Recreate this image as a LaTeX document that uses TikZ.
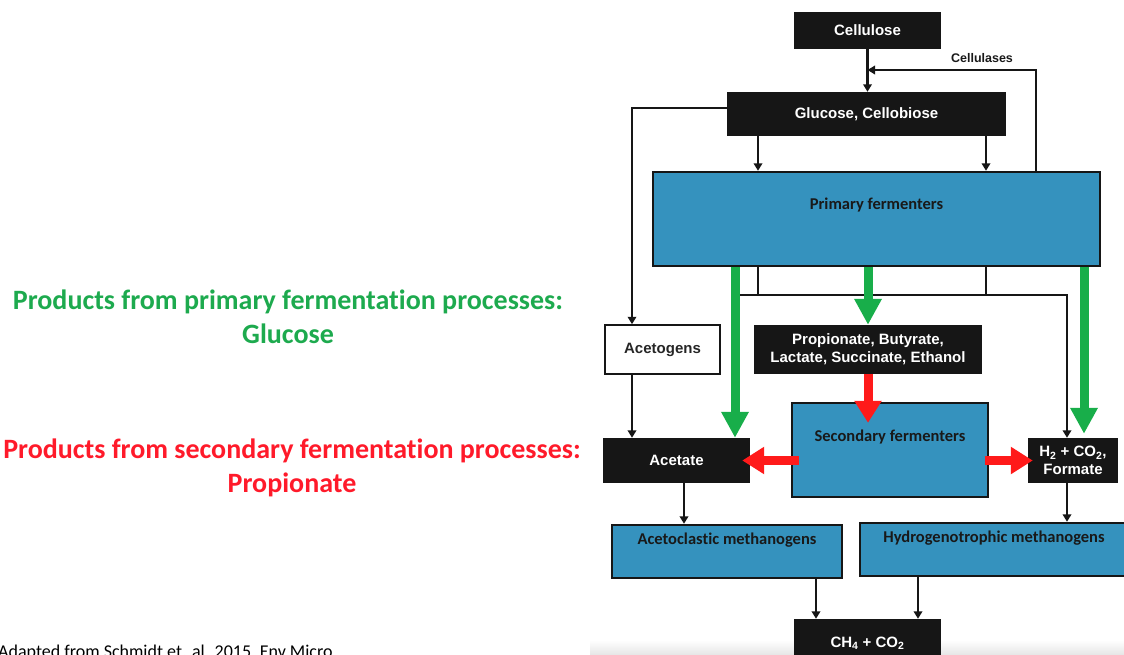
\documentclass[tikz,border=0pt]{standalone}
\usepackage{fontspec}
\setmainfont{Liberation Sans}
\newfontfamily\calfont[Ligatures=NoCommon]{Carlito}
\usetikzlibrary{arrows.meta,calc}

\definecolor{boxblue}{HTML}{3592BE}
\definecolor{boxblack}{HTML}{161616}
\definecolor{flowgreen}{HTML}{18AE4A}
\definecolor{flowred}{HTML}{FF1A1A}
\definecolor{txtgreen}{HTML}{1DAA4E}
\definecolor{txtred}{HTML}{FF1A2A}

\tikzset{
  blackbox/.style={fill=boxblack, text=white, inner sep=0pt, align=center,
    font=\bfseries\fontsize{15}{18}\selectfont},
  whitebox/.style={fill=white, draw=boxblack, line width=1.5pt, inner sep=0pt,
    text=black!85, font=\bfseries\fontsize{15}{18}\selectfont},
  bluebox/.style={fill=boxblue, draw=boxblack, line width=2.4pt, inner sep=0pt},
  bluelabel/.style={text=black!90, font=\calfont\bfseries\fontsize{16.5}{19}\selectfont},
  smalllabel/.style={text=black!90, font=\bfseries\fontsize{12.5}{14}\selectfont},
  heading/.style={align=center, font=\calfont\bfseries\fontsize{28}{34}\selectfont},
  link/.style={draw=boxblack, line width=2.6pt},
  linkarrow/.style={link, -{Triangle[length=7.5pt,width=8.5pt]}},
  primaryflow/.style={draw=flowgreen, line width=9pt, -{Triangle[length=26pt,width=26pt]}},
  secondaryflow/.style={draw=flowred, line width=9pt, -{Triangle[length=22pt,width=26pt]}},
}

\begin{document}
\begin{tikzpicture}[x=1pt, y=-1pt]
\useasboundingbox (0,0) rectangle (1124,655);
\clip (0,0) rectangle (1124,655);

% faint page shadow along the lower right edge
\shade[top color=white, bottom color=black!10] (590,640) rectangle (1124,655);

% ---- boxes ----
\node[blackbox, minimum width=147pt, minimum height=37pt] (cellulose) at (867.5,30.5) {Cellulose};
\node[blackbox, minimum width=279pt, minimum height=44pt] (glucose) at (866.5,114) {Glucose, Cellobiose};
\node[bluebox, minimum width=447pt, minimum height=94pt] (primary) at (876.5,219) {};
\node[bluelabel] (primary-text) at ([yshift=-34pt]primary.north) {Primary fermenters};

\node[whitebox, minimum width=115pt, minimum height=49pt] (acetogens) at (662.5,349.5) {Acetogens};
\node[blackbox, minimum width=228pt, minimum height=49pt] (propionate) at (868,349.5)
  {Propionate, Butyrate,\\Lactate, Succinate, Ethanol};

\node[bluebox, minimum width=196pt, minimum height=94pt] (secondary) at (890,450) {};
\node[bluelabel] (secondary-text) at ([yshift=-35pt]secondary.north) {Secondary fermenters};

\node[blackbox, minimum width=147pt, minimum height=45pt] (acetate) at (676.5,460.5) {Acetate};
\node[blackbox, minimum width=90pt, minimum height=45pt] (h2) at (1073,460.5)
  {H\textsubscript{2} + CO\textsubscript{2},\\Formate};

\node[bluebox, minimum width=230pt, minimum height=53pt] (acetoclastic) at (727,551.5) {};
\node[bluelabel] (acetoclastic-text) at ([yshift=-16pt]acetoclastic.north) {Acetoclastic methanogens};
\node[bluebox, minimum width=270pt, minimum height=53pt] (hydro) at (995,549.5) {};
\node[bluelabel] (hydro-text) at ([xshift=-1pt,yshift=-16pt]hydro.north) {Hydrogenotrophic methanogens};

\node[blackbox, minimum width=147pt, minimum height=48pt] (ch4) at (867.5,643)
  {CH\textsubscript{4} + CO\textsubscript{2}};

% ---- routing points ----
\coordinate (cj) at (867.5,70);
\coordinate (cr) at (1036,70);
\coordinate (g1) at (758,0);
\coordinate (g2) at (986,0);
\coordinate (al) at (632,108);
\coordinate (b1) at (738,295);
\coordinate (b2) at (1067,295);
\coordinate (k1) at (735,0);
\coordinate (k3) at (1084,0);
\coordinate (m1) at (684,0);
\coordinate (n1) at (816,0);
\coordinate (n2) at (918,0);

% ---- thin connectors ----
\draw[linkarrow] (cellulose.south) -- (glucose.north -| cellulose.south);
\draw[linkarrow] (primary.north -| cr) -- (cr) -- (cj);
\node[smalllabel] (cellulases) at (982,58) {Cellulases};
\draw[linkarrow] (glucose.south -| g1) -- (primary.north -| g1);
\draw[linkarrow] (glucose.south -| g2) -- (primary.north -| g2);
\draw[linkarrow, line width=2.2pt] (glucose.west |- al) -- (al) -- (acetogens.north -| al);

\draw[link] (primary.south -| g1) -- (g1 |- b1);
\draw[link] (primary.south -| g2) -- (g2 |- b1);
\draw[linkarrow] (b1) -- (b2) -- (h2.north -| b2);

\draw[linkarrow, line width=2.2pt] (acetogens.south -| al) -- (acetate.north -| al);
\draw[linkarrow] (acetate.south -| m1) -- (acetoclastic.north -| m1);
\draw[linkarrow] (h2.south -| b2) -- (hydro.north -| b2);
\draw[linkarrow] (acetoclastic.south -| n1) -- (ch4.north -| n1);
\draw[linkarrow] (hydro.south -| n2) -- (ch4.north -| n2);

% ---- primary fermentation products ----
\draw[primaryflow] (primary.south -| k1) -- (acetate.north -| k1);
\draw[primaryflow] (primary.south -| propionate.north) -- (propionate.north);
\draw[primaryflow] (primary.south -| k3) -- ([yshift=4pt]h2.north -| k3);

% ---- secondary fermentation products ----
\draw[secondaryflow] (propionate.south) -- ([yshift=-21pt]secondary.north -| propionate.south);
\draw[secondaryflow] ([xshift=8pt]secondary.west |- acetate.east) -- ([xshift=-8pt]acetate.east);
\draw[secondaryflow] ([xshift=-4pt]secondary.east |- h2.west) -- ([xshift=5pt]h2.west);

% ---- side headings ----
\node[heading, text=txtgreen] (primary-head) at (288,317)
  {Products from primary fermentation processes:\\Glucose};
\node[heading, text=txtred] (secondary-head) at (292,468)
  {Products from secondary fermentation processes:\\Propionate};

\node[anchor=base west, inner sep=0pt, text=black,
  font=\calfont\fontsize{18}{20}\selectfont] (source) at (-2,657)
  {Adapted from Schmidt et. al. 2015, Env Micro};
\end{tikzpicture}
\end{document}
